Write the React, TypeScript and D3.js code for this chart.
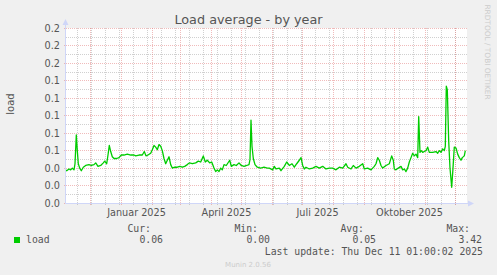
import React from "react";
import * as d3 from "d3";

const W = 497;
const H = 275;
const DAY = 86400000;
const START = Date.UTC(2024, 10, 6);
const END = Date.UTC(2025, 11, 11);

// day offset from START, and load value
const dayOffsets = [
  0, 1.2, 3.5, 5.2, 6.8, 8.5, 9.5, 10.8, 11.8, 12.8, 14.2, 15.8, 17.8, 20.2, 23.5, 25.8, 28.5, 30.2,
  32.5, 35.2, 37.8, 39.2, 41.2, 42.5, 43.8, 45.2, 46.8, 48.5, 51.2, 53.5, 55.8, 58.5, 61.8, 65.2,
  68.5, 70.2, 73.5, 76.8, 78.8, 80.5, 82.5, 85.2, 86.8, 88.5, 90.2, 91.8, 93.5, 95.2, 96.8, 98.5,
  100.2, 101.8, 103.5, 105.2, 106.8, 109.2, 111.8, 114.5, 116.8, 119.2, 121.8, 123.8, 126.8, 130.2,
  132.8, 135.2, 137.8, 139.8, 141.8, 144.2, 146.2, 148.5, 150.2, 151.8, 153.5, 155.2, 156.8, 158.5,
  160.8, 164.2, 165.8, 168.5, 170.8, 173.5, 175.8, 178.5, 181.2, 183.5, 184.5, 185.5, 186.5, 187.8,
  189.5, 191.8, 195.2, 198.5, 201.8, 203.8, 207.2, 208.8, 210.5, 213.8, 215.5, 218.8, 221.2, 223.8,
  226.5, 228.8, 231.2, 233.8, 235.5, 237.2, 238.8, 240.5, 243.8, 247.2, 250.5, 253.8, 257.2, 260.5,
  263.8, 267.2, 270.5, 273.8, 277.2, 280.5, 282.2, 285.5, 287.8, 290.5, 293.8, 297.2, 298.8, 302.2,
  305.5, 308.8, 310.5, 312.2, 313.8, 315.5, 317.2, 320.5, 323.8, 326.2, 327.8, 328.8, 330.5, 332.8,
  335.5, 337.2, 338.8, 340.5, 342.2, 343.8, 345.5, 347.2, 348.8, 350.5, 352.2, 353.2, 354.5, 355.8,
  357.2, 358.8, 360.5, 362.2, 363.8, 367.2, 370.5, 372.2, 373.8, 375.5, 377.2, 378.8, 379.8, 380.8,
  381.8, 383.2, 384.5, 386.2, 387.5, 388.8, 390.5, 392.2, 393.8, 395.5, 396.8, 398.8, 399.8,
];
const loadValues = [
  0.038, 0.037, 0.039, 0.038, 0.040, 0.038, 0.045, 0.078, 0.060, 0.045, 0.040, 0.037, 0.041, 0.043,
  0.044, 0.043, 0.044, 0.046, 0.042, 0.043, 0.046, 0.048, 0.045, 0.055, 0.066, 0.059, 0.053, 0.051,
  0.051, 0.052, 0.055, 0.055, 0.056, 0.055, 0.055, 0.054, 0.055, 0.055, 0.059, 0.054, 0.055, 0.057,
  0.061, 0.066, 0.064, 0.061, 0.067, 0.065, 0.060, 0.051, 0.045, 0.049, 0.053, 0.044, 0.040, 0.041,
  0.041, 0.042, 0.041, 0.042, 0.044, 0.046, 0.045, 0.046, 0.048, 0.047, 0.054, 0.047, 0.049, 0.046,
  0.047, 0.040, 0.036, 0.038, 0.036, 0.040, 0.038, 0.044, 0.043, 0.049, 0.042, 0.044, 0.043, 0.046,
  0.043, 0.042, 0.043, 0.044, 0.050, 0.095, 0.065, 0.051, 0.044, 0.041, 0.040, 0.041, 0.040, 0.040,
  0.038, 0.042, 0.039, 0.040, 0.037, 0.042, 0.047, 0.043, 0.045, 0.041, 0.045, 0.049, 0.052, 0.043,
  0.039, 0.041, 0.039, 0.040, 0.042, 0.040, 0.042, 0.039, 0.040, 0.040, 0.038, 0.041, 0.040, 0.045,
  0.041, 0.039, 0.043, 0.040, 0.042, 0.045, 0.039, 0.040, 0.038, 0.042, 0.045, 0.052, 0.049, 0.043,
  0.040, 0.043, 0.045, 0.054, 0.049, 0.039, 0.038, 0.040, 0.042, 0.038, 0.039, 0.036, 0.040, 0.047,
  0.052, 0.057, 0.054, 0.056, 0.052, 0.099, 0.058, 0.060, 0.058, 0.059, 0.060, 0.064, 0.058, 0.058,
  0.059, 0.057, 0.060, 0.058, 0.062, 0.060, 0.065, 0.134, 0.130, 0.071, 0.040, 0.018, 0.040, 0.064,
  0.063, 0.056, 0.052, 0.049, 0.052, 0.054, 0.060,
];

const yTickValues = [0, 0.02, 0.04, 0.06, 0.08, 0.1, 0.12, 0.14, 0.16, 0.18, 0.2];
const yMinorValues = [0.01, 0.03, 0.05, 0.07, 0.09, 0.11, 0.13, 0.15, 0.17, 0.19];
const xLabelMonths = ["2025-01-01", "2025-04-01", "2025-07-01", "2025-10-01"];
const xLabelTexts = ["Januar 2025", "April 2025", "Juli 2025", "Oktober 2025"];
const minorGridAnchor = "2025-07-14";

const legendHeaders = ["Cur:", "Min:", "Avg:", "Max:"];
const legendValues = ["0.06", "0.00", "0.05", "3.42"];

const PL = 66;
const PR = 467;
const PT = 28;
const PB = 203;

export default function App() {
  const x = d3.scaleUtc().domain([new Date(START), new Date(END)]).range([65.5, 465.5]);
  const y = d3.scaleLinear().domain([0, 0.2]).range([203, 28.5]);
  const snap = (v: number) => Math.floor(v) + 0.5;

  const months = d3.utcMonth.range(new Date(START), new Date(END));
  const anchor = Date.parse(minorGridAnchor + "T00:00:00Z");
  const minorX: number[] = [];
  for (let t = anchor; t >= START; t -= 14 * DAY) minorX.push(t);
  for (let t = anchor + 14 * DAY; t <= END; t += 14 * DAY) minorX.push(t);

  const pts = dayOffsets.map((d, i) => [START + d * DAY, loadValues[i]] as [number, number]);
  const line = d3
    .line<[number, number]>()
    .x((p) => x(new Date(p[0])))
    .y((p) => y(p[1]));

  const font = "'DejaVu Sans', sans-serif";
  const mono = "'DejaVu Sans Mono', monospace";
  const txt = "#555";
  const grid = "rgba(150,150,150,0.45)";
  const mgrid = "rgba(225,120,120,0.5)";
  const axis = "#CFD6F8";

  const legendRight = [163, 270, 376, 482];
  const headerRight = [151, 258, 364, 470];

  return (
    <svg width={W} height={H} style={{ position: "absolute", left: 0, top: 0, display: "block" }}>
      <rect x={0} y={0} width={W} height={H} fill="#F0F0F0" />
      <rect x={PL} y={PT} width={PR - PL} height={PB - PT} fill="#FFFFFF" />
      <defs>
        <clipPath id="plot">
          <rect x={PL} y={PT - 1} width={PR - PL} height={PB - PT + 1} />
        </clipPath>
      </defs>
      {/* minor grid */}
      {yMinorValues.map((v) => (
        <line key={"ym" + v} x1={PL} x2={PR} y1={snap(y(v))} y2={snap(y(v))} stroke={grid} strokeDasharray="1,1" />
      ))}
      {minorX.map((t) => (
        <line key={"xm" + t} x1={x(new Date(t))} x2={x(new Date(t))} y1={PT} y2={PB + 2} stroke={grid} strokeDasharray="1,1" />
      ))}
      {/* major grid */}
      {yTickValues.map((v) => (
        <line key={"yM" + v} x1={PL - 2} x2={PR} y1={snap(y(v))} y2={snap(y(v))} stroke={mgrid} strokeDasharray="1,1" />
      ))}
      {months.map((m) => (
        <line key={"xM" + m.getTime()} x1={x(m)} x2={x(m)} y1={PT} y2={PB + 3} stroke={mgrid} strokeDasharray="1,1" />
      ))}
      {/* data line */}
      <path d={line(pts) || ""} fill="none" stroke="#00CC00" strokeWidth={1.3} strokeLinejoin="round" clipPath="url(#plot)" />
      {/* axes */}
      <line x1={65.5} x2={65.5} y1={PB + 0.5} y2={24} stroke={axis} />
      <path d="M62.5,25 L68.5,25 L65.5,19 Z" fill={axis} />
      <line x1={65.5} x2={469} y1={203.5} y2={203.5} stroke={axis} />
      <path d="M468,200.5 L468,206.5 L474,203.5 Z" fill={axis} />
      {/* y tick labels */}
      {yTickValues.map((v) => (
        <text key={"yl" + v} x={60} y={y(v) + 3.5} textAnchor="end" fontFamily={font} fontSize={9.7} fill={txt}>
          {d3.format(".1f")(v)}
        </text>
      ))}
      {/* x labels */}
      {xLabelMonths.map((m, i) => {
        const t = Date.parse(m + "T00:00:00Z") + 15 * DAY;
        return (
          <text key={m} x={x(new Date(t))} y={216} textAnchor="middle" fontFamily={font} fontSize={9.7} fill={txt}>
            {xLabelTexts[i]}
          </text>
        );
      })}
      {/* title */}
      <text x={248.5} y={23.5} textAnchor="middle" fontFamily={font} fontSize={12.8} fill={txt}>
        Load average - by year
      </text>
      {/* y axis title */}
      <text transform="translate(13.5,104) rotate(-90)" textAnchor="middle" fontFamily={font} fontSize={10} fill={txt}>
        load
      </text>
      {/* watermark */}
      <text transform="translate(485,52) rotate(90)" textAnchor="middle" fontFamily={font} fontSize={7.4} fill="#CCCCCC">
        RRDTOOL / TOBI OETIKER
      </text>
      {/* legend */}
      {legendHeaders.map((h, i) => (
        <text key={h} x={headerRight[i]} y={231.5} textAnchor="end" fontFamily={mono} fontSize={9.8} fill={txt}>
          {h}
        </text>
      ))}
      <rect x={14} y={237} width={6} height={6} fill="#00CC00" />
      <text x={26} y={243} fontFamily={mono} fontSize={9.8} fill={txt}>
        load
      </text>
      {legendValues.map((v, i) => (
        <text key={"lv" + i} x={legendRight[i]} y={243} textAnchor="end" fontFamily={mono} fontSize={9.8} fill={txt}>
          {v}
        </text>
      ))}
      <text x={483} y={254.5} textAnchor="end" fontFamily={mono} fontSize={9.8} fill={txt}>
        Last update: Thu Dec 11 01:00:02 2025
      </text>
      <text x={248} y={266.5} textAnchor="middle" fontFamily={font} fontSize={7} fill="#CCCCCC">
        Munin 2.0.56
      </text>
    </svg>
  );
}
